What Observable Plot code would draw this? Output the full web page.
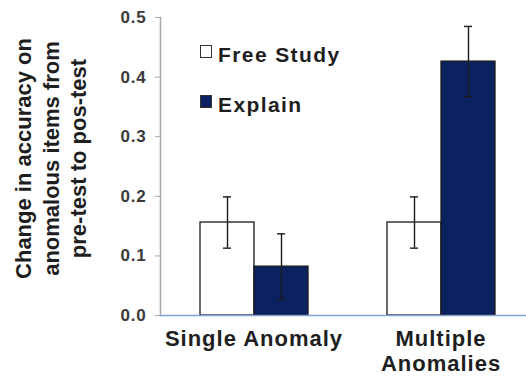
<!DOCTYPE html>
<html><head><meta charset="utf-8">
<script src="https://cdn.jsdelivr.net/npm/d3@7"></script>
<script src="https://cdn.jsdelivr.net/npm/@observablehq/plot@0.6"></script>
<style>
html,body{margin:0;padding:0;background:#fff;}
body{font-family:"Liberation Sans",Arial,sans-serif;}
#wrap{position:relative;width:526px;height:377px;overflow:hidden;}
#wrap svg{position:absolute;left:0;top:0;}
.ylab{position:absolute;left:-80px;top:118px;width:260px;height:81px;line-height:27.5px;font-size:22px;font-weight:bold;color:#1e1e1e;text-align:center;transform:rotate(-90deg);transform-origin:center center;white-space:nowrap;}
.leg{position:absolute;left:200px;font-size:21px;font-weight:bold;color:#1e1e1e;line-height:21px;letter-spacing:1.4px;white-space:nowrap;}
.leg .sw{position:absolute;left:0;top:1px;width:10px;height:11px;border:1.3px solid #333;}
.leg .tx{position:absolute;left:18px;top:0;}
</style></head><body>
<div id="wrap"></div>
<script>
const categories = ["Single Anomaly", "Multiple Anomalies"];
const categoryLabels = ["Single Anomaly", "Multiple\nAnomalies"];
const series = ["Free Study", "Explain"];
const seriesColors = ["#ffffff", "#0c2160"];
const freeStudy = [0.156, 0.156];
const freeStudyErr = [0.043, 0.043];
const explain = [0.082, 0.426];
const explainErr = [0.055, 0.059];
const yTicks = [0, 0.1, 0.2, 0.3, 0.4, 0.5];
const yLabelLines = ["Change in accuracy on", "anomalous items from", "pre-test to pos-test"];

const rows = [];
categories.forEach((c, i) => {
  rows.push({category: c, series: series[0], value: freeStudy[i], lo: freeStudy[i] - freeStudyErr[i], hi: freeStudy[i] + freeStudyErr[i]});
  rows.push({category: c, series: series[1], value: explain[i], lo: explain[i] - explainErr[i], hi: explain[i] + explainErr[i]});
});

const chart = Plot.plot({
  width: 526,
  height: 377,
  marginLeft: 160,
  marginRight: 0,
  marginTop: 17,
  marginBottom: 62,
  style: {fontFamily: "Liberation Sans, Arial, sans-serif", background: "white", overflow: "visible"},
  fx: {domain: categories, padding: 0, range: [160, 534], label: null, axis: null},
  x: {domain: series, paddingInner: 0, paddingOuter: 0.73, axis: null},
  y: {domain: [0, 0.5], axis: null},
  color: {domain: series, range: seriesColors},
  marks: [
    Plot.frame({anchor: "left", stroke: "#a8a8a8", strokeWidth: 1.5, facetAnchor: "left"}),
    Plot.axisY({ticks: yTicks, tickFormat: d3.format(".1f"), tickSize: 5, tickPadding: 9, stroke: "#a8a8a8", fill: "#3a3a3a", fontSize: 17, fontWeight: "bold", label: null}),
    Plot.barY(rows, {fx: "category", x: "series", y: "value", fill: "series", stroke: "#1a1a1a", strokeWidth: 1.3}),
    Plot.ruleY([0], {stroke: "#7fa2d8", strokeWidth: 1.6}),
    Plot.ruleX(rows, {fx: "category", x: "series", y1: "lo", y2: "hi", stroke: "#1a1a1a", strokeWidth: 1.4}),
    Plot.tickY(rows, {fx: "category", x: "series", y: "lo", stroke: "#1a1a1a", strokeWidth: 1.4, insetLeft: 23, insetRight: 23}),
    Plot.tickY(rows, {fx: "category", x: "series", y: "hi", stroke: "#1a1a1a", strokeWidth: 1.4, insetLeft: 23, insetRight: 23}),
    Plot.axisFx({anchor: "bottom", tickSize: 0, tickPadding: 13, tickFormat: d => categoryLabels[categories.indexOf(d)], fontSize: 22, fontWeight: "bold", fill: "#1e1e1e", lineHeight: 1.12, label: null})
  ]
});

d3.select(chart).selectAll('g[aria-label="fx-axis tick label"] text').style("letter-spacing", "1px");
d3.select(chart).selectAll('g[aria-label="y-axis tick label"] text').style("letter-spacing", "0.8px");

const wrap = document.getElementById("wrap");
wrap.appendChild(chart);

const yl = document.createElement("div");
yl.className = "ylab";
yl.innerHTML = yLabelLines.join("<br>");
wrap.appendChild(yl);

const legendTops = [44, 94];
series.forEach((s, i) => {
  const d = document.createElement("div");
  d.className = "leg";
  d.style.top = legendTops[i] + "px";
  const sw = document.createElement("span");
  sw.className = "sw";
  sw.style.background = seriesColors[i];
  const tx = document.createElement("span");
  tx.className = "tx";
  tx.textContent = s;
  d.appendChild(sw); d.appendChild(tx);
  wrap.appendChild(d);
});
</script>
</body></html>
